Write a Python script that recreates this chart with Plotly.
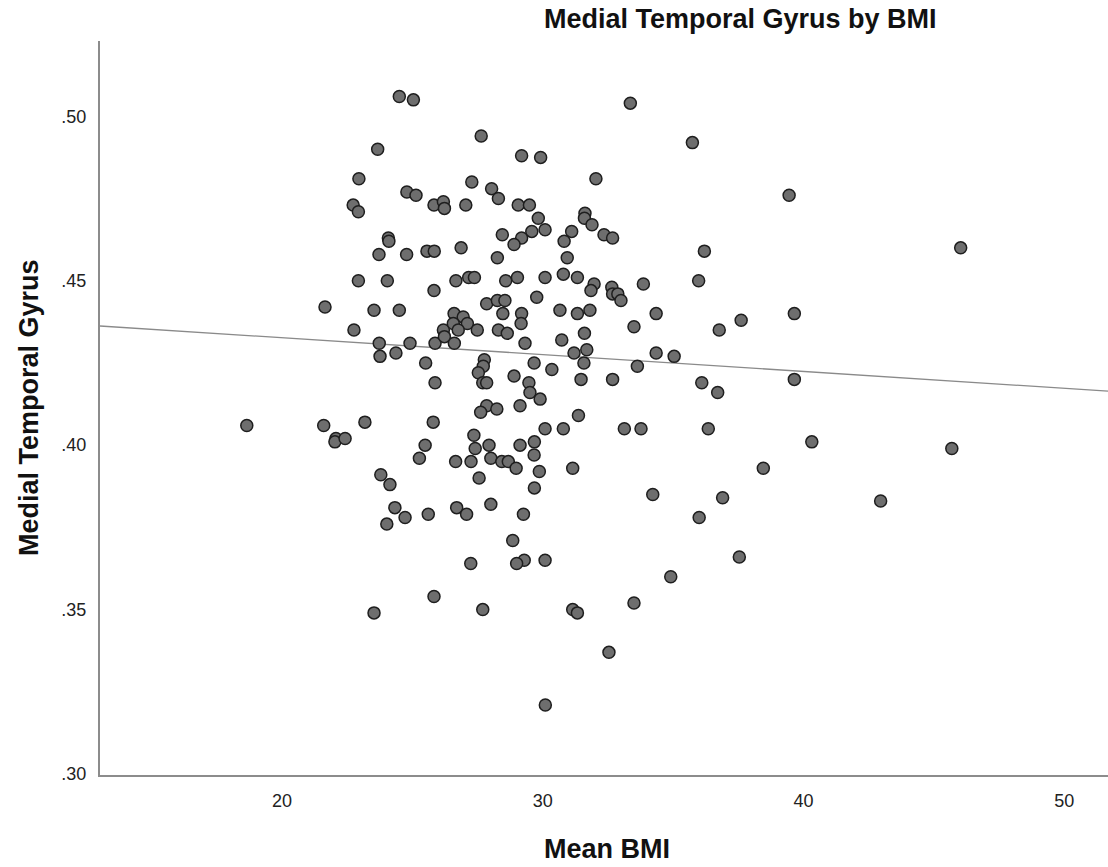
import plotly.graph_objects as go

# Mean BMI (x) and Medial Temporal Gyrus (y)
bmi = [
    24.50, 25.04, 27.64, 23.67, 22.95, 27.28, 28.04, 24.79, 25.14, 22.73,
    22.93, 25.83, 26.19, 26.23, 27.05, 24.08, 24.10, 23.72, 24.78, 25.56,
    25.84, 26.87, 22.93, 24.04, 25.83, 26.67, 27.16, 27.38, 21.65, 23.53,
    24.50, 26.60, 26.95, 27.85,
    33.36, 35.74, 29.19, 29.92, 32.04, 28.30, 29.06, 29.49, 29.83, 29.58,
    30.09, 29.19, 28.90, 28.45, 31.62, 31.60, 31.89, 31.11, 30.82, 32.35,
    32.68, 30.94, 36.20, 28.26, 28.58, 29.03, 30.09, 30.79, 31.33, 31.97,
    31.85, 32.65, 32.68, 32.88, 33.00, 33.86, 35.98, 28.26, 28.55, 29.77,
    28.47, 29.19, 30.66, 31.33, 31.81, 34.35,
    22.76, 23.73, 23.76, 24.37, 24.91, 25.87, 26.19, 26.57, 27.11, 26.76,
    26.23, 26.61, 27.49, 28.30, 25.51, 25.87, 27.76, 27.72, 27.53, 27.70,
    27.85, 27.85, 27.62, 28.24, 21.60, 22.07, 22.03, 22.42, 23.18, 25.80,
    25.49, 25.27, 23.79, 24.14, 27.36, 27.41, 27.94, 26.66, 27.25, 28.01,
    27.56, 24.33, 26.70, 28.01,
    29.17, 28.64, 29.32, 31.60, 30.73, 31.20, 31.69, 31.58, 31.47, 29.67,
    30.35, 28.90, 29.47, 29.51, 29.90, 29.13, 31.37, 30.09, 30.79, 32.68,
    33.63, 33.50, 34.35, 35.04, 36.10, 33.13, 33.77, 36.35, 29.13, 29.68,
    29.67, 28.43, 28.68, 28.98, 29.87, 31.15, 29.68, 34.22,
    24.72, 24.02, 25.61, 27.08, 27.24, 25.83, 23.53, 27.70,
    29.26, 36.00, 28.85, 29.29, 29.00, 30.09, 34.91, 31.15, 31.33, 33.50,
    32.54, 30.10,
    39.45, 46.03, 39.65, 37.61, 36.77, 36.71, 39.65, 40.32, 38.46, 45.69,
    36.90, 42.96, 37.54,
    18.65,
]

mtg = [
    0.506, 0.505, 0.494, 0.490, 0.481, 0.480, 0.478, 0.477, 0.476, 0.473,
    0.471, 0.473, 0.474, 0.472, 0.473, 0.463, 0.462, 0.458, 0.458, 0.459,
    0.459, 0.460, 0.450, 0.450, 0.447, 0.450, 0.451, 0.451, 0.442, 0.441,
    0.441, 0.440, 0.439, 0.443,
    0.504, 0.492, 0.488, 0.4875, 0.481, 0.475, 0.473, 0.473, 0.469, 0.465,
    0.4655, 0.463, 0.461, 0.464, 0.4705, 0.469, 0.467, 0.465, 0.462, 0.464,
    0.463, 0.457, 0.459, 0.457, 0.450, 0.451, 0.451, 0.452, 0.451, 0.449,
    0.447, 0.448, 0.446, 0.446, 0.444, 0.449, 0.450, 0.444, 0.444, 0.445,
    0.440, 0.440, 0.441, 0.440, 0.441, 0.440,
    0.435, 0.431, 0.427, 0.428, 0.431, 0.431, 0.435, 0.437, 0.437, 0.435,
    0.433, 0.431, 0.435, 0.435, 0.425, 0.419, 0.426, 0.424, 0.422, 0.419,
    0.419, 0.412, 0.410, 0.411, 0.406, 0.402, 0.401, 0.402, 0.407, 0.407,
    0.400, 0.396, 0.391, 0.388, 0.403, 0.399, 0.400, 0.395, 0.395, 0.396,
    0.390, 0.381, 0.381, 0.382,
    0.437, 0.434, 0.431, 0.434, 0.432, 0.428, 0.429, 0.425, 0.420, 0.425,
    0.423, 0.421, 0.419, 0.416, 0.414, 0.412, 0.409, 0.405, 0.405, 0.420,
    0.424, 0.436, 0.428, 0.427, 0.419, 0.405, 0.405, 0.405, 0.400, 0.401,
    0.397, 0.395, 0.395, 0.393, 0.392, 0.393, 0.387, 0.385,
    0.378, 0.376, 0.379, 0.379, 0.364, 0.354, 0.349, 0.350,
    0.379, 0.378, 0.371, 0.365, 0.364, 0.365, 0.360, 0.350, 0.349, 0.352,
    0.337, 0.321,
    0.476, 0.460, 0.440, 0.438, 0.435, 0.416, 0.420, 0.401, 0.393, 0.399,
    0.384, 0.383, 0.366,
    0.406,
]

# Fit line
fit_intercept = 0.4429
fit_slope = -0.000512

x_range = [13.02, 51.68]
y_range = [0.2997, 0.5229]

x_tick_vals = [20, 30, 40, 50]
x_tick_text = ["20", "30", "40", "50"]
y_tick_vals = [0.30, 0.35, 0.40, 0.45, 0.50]
y_tick_text = [".30", ".35", ".40", ".45", ".50"]

title_text = "Medial Temporal Gyrus by BMI"
x_title = "Mean BMI"
y_title = "Medial Temporal Gyrus"

FONT = "Liberation Sans, Arial, sans-serif"

fit_x = x_range
fit_y = [fit_intercept + fit_slope * v for v in fit_x]

fig = go.Figure()
fig.add_trace(go.Scatter(
    x=fit_x, y=fit_y, mode="lines",
    line=dict(color="#8a8a8a", width=1.3),
    hoverinfo="skip", showlegend=False,
))
fig.add_trace(go.Scatter(
    x=bmi, y=mtg, mode="markers",
    marker=dict(size=12, color="#6e6e6e",
                line=dict(color="#1e1e1e", width=1.5)),
    showlegend=False,
))

M_L, M_R, M_T, M_B = 100, 0, 41, 92
W, H = 1108, 867

fig.update_layout(
    width=W, height=H,
    margin=dict(l=M_L, r=M_R, t=M_T, b=M_B),
    paper_bgcolor="white", plot_bgcolor="white",
    font=dict(family=FONT, color="#222222", size=17),
    xaxis=dict(
        range=x_range, tickvals=x_tick_vals, ticktext=x_tick_text,
        showgrid=False, zeroline=False, showline=True,
        linecolor="#8c8c8c", linewidth=2,
        ticks="outside", ticklen=8, tickcolor="rgba(0,0,0,0)",
        tickfont=dict(size=18, color="#222222"),
    ),
    yaxis=dict(
        range=y_range, tickvals=y_tick_vals, ticktext=y_tick_text,
        showgrid=False, zeroline=False, showline=True,
        linecolor="#8c8c8c", linewidth=2,
        ticks="outside", ticklen=8, tickcolor="rgba(0,0,0,0)",
        tickfont=dict(size=18, color="#222222"),
    ),
)

plot_w = W - M_L - M_R
plot_h = H - M_T - M_B
def px_to_paper_x(px):
    return (px - M_L) / plot_w
def py_to_paper_y(py):
    return (H - M_B - py) / plot_h

fig.add_annotation(text="<b>%s</b>" % title_text,
                   x=px_to_paper_x(740), y=py_to_paper_y(19),
                   xref="paper", yref="paper", showarrow=False,
                   xanchor="center", yanchor="middle",
                   font=dict(size=27, color="#111111", family=FONT))
fig.add_annotation(text="<b>%s</b>" % x_title,
                   x=px_to_paper_x(607), y=py_to_paper_y(849),
                   xref="paper", yref="paper", showarrow=False,
                   xanchor="center", yanchor="middle",
                   font=dict(size=27, color="#111111", family=FONT))
fig.add_annotation(text="<b>%s</b>" % y_title,
                   x=px_to_paper_x(29), y=py_to_paper_y(408),
                   xref="paper", yref="paper", showarrow=False,
                   xanchor="center", yanchor="middle", textangle=-90,
                   font=dict(size=27, color="#111111", family=FONT))

fig.write_html("out.html")
